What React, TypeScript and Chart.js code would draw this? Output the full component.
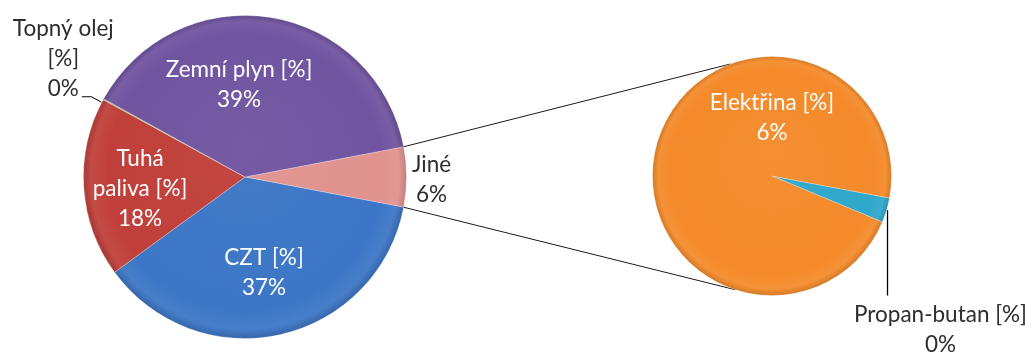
import React, { useEffect, useRef } from "react";
import { Chart, registerables } from "chart.js";

Chart.register(...registerables);

// ---- data ----
const mainLabelLines: string[][] = [["Jiné"], ["CZT [%]"], ["Tuhá", "paliva [%]"], ["Topný olej", "[%]"], ["Zemní plyn [%]"]];
const mainValues = [6, 37, 18, 0.1, 39];
const mainPercent = ["6%", "37%", "18%", "0%", "39%"];
const mainColors = ["#e0938f", "#3c76c6", "#c03f3a", "#8aad4a", "#7054a0"];

const subLabelLines: string[][] = [["Propan-butan [%]"], ["Elektřina [%]"]];
const subValues = [0.2, 5.8];
const subPercent = ["0%", "6%"];
const subColors = ["#2fa8cb", "#f48a2a"];

const FONT = "Lato, 'Open Sans', sans-serif";
const FONT_SIZE = 22.5;
const LINE_H = 30;
const DARK = "#2e2e2e";

function shade(hex: string, amt: number): string {
  const n = parseInt(hex.slice(1), 16);
  let r = (n >> 16) & 255, g = (n >> 8) & 255, b = n & 255;
  const f = (c: number) => Math.round(amt >= 0 ? c + (255 - c) * amt : c * (1 + amt));
  return `rgb(${f(r)},${f(g)},${f(b)})`;
}

function gradientFill(colors: string[]) {
  return (ctx: any) => {
    const chart = ctx.chart;
    const base = colors[ctx.dataIndex];
    const a = chart.chartArea;
    if (!a) return base;
    const cx = (a.left + a.right) / 2;
    const cy = (a.top + a.bottom) / 2;
    const r = Math.min(a.right - a.left, a.bottom - a.top) / 2;
    const g = chart.ctx.createRadialGradient(cx, cy - r * 0.2, 0, cx, cy, r);
    g.addColorStop(0, shade(base, 0.04));
    g.addColorStop(0.85, base);
    g.addColorStop(0.95, shade(base, 0.06));
    g.addColorStop(1, shade(base, -0.14));
    return g;
  };
}

function drawLines(c: CanvasRenderingContext2D, lines: string[], x: number, yc: number, color: string) {
  c.save();
  c.font = `${FONT_SIZE}px ${FONT}`;
  c.fillStyle = color;
  c.textAlign = "center";
  c.textBaseline = "middle";
  const y0 = yc - ((lines.length - 1) * LINE_H) / 2;
  lines.forEach((t, i) => c.fillText(t, x, y0 + i * LINE_H));
  c.restore();
}

export default function App() {
  const mainRef = useRef<HTMLCanvasElement>(null);
  const subRef = useRef<HTMLCanvasElement>(null);

  useEffect(() => {
    const subPlugin = {
      id: "subLabels",
      afterDatasetsDraw(chart: any) {
        const c = chart.ctx as CanvasRenderingContext2D;
        const arcs = chart.getDatasetMeta(0).data;
        const big = arcs[1];
        const cx = big.x, cy = big.y, r = big.outerRadius;
        drawLines(c, [...subLabelLines[1], subPercent[1]], cx, cy - r * 0.49, "#ffffff");
        const p = arcs[0];
        const mid = (p.startAngle + p.endAngle) / 2;
        const px = cx + r * Math.cos(mid);
        const py = cy + r * Math.sin(mid);
        c.save();
        c.strokeStyle = "#000";
        c.lineWidth = 1.3;
        c.beginPath();
        c.moveTo(px + 1, py);
        c.lineTo(px + 1, cy + r * 1.0);
        c.stroke();
        c.restore();
        drawLines(c, [...subLabelLines[0], subPercent[0]], cx + r * 1.41, cy + r * 1.29, DARK);
      },
    };

    const sub = new Chart(subRef.current!, {
      type: "pie",
      data: {
        labels: subLabelLines.map((l) => l.join(" ")),
        datasets: [
          {
            data: subValues,
            backgroundColor: gradientFill(subColors) as any,
            borderColor: "rgba(255,255,255,0.25)",
            borderWidth: 1,
          },
        ],
      },
      options: {
        animation: false,
        responsive: false,
        rotation: 90 + 10.6,
        layout: { padding: { left: 652, right: 140, top: 56, bottom: 58 } },
        plugins: { legend: { display: false }, tooltip: { enabled: false } },
      },
      plugins: [subPlugin],
    });

    const mainTotal = mainValues.reduce((a, b) => a + b, 0);
    const mainPlugin = {
      id: "mainLabels",
      afterDatasetsDraw(chart: any) {
        const c = chart.ctx as CanvasRenderingContext2D;
        const arcs = chart.getDatasetMeta(0).data;
        const a0 = arcs[0];
        const cx = a0.x, cy = a0.y, r = a0.outerRadius;
        drawLines(c, [...mainLabelLines[4], mainPercent[4]], cx - r * 0.037, cy - r * 0.57, "#ffffff");
        drawLines(c, [...mainLabelLines[2], mainPercent[2]], cx - r * 0.65, cy + r * 0.074, "#ffffff");
        drawLines(c, [...mainLabelLines[1], mainPercent[1]], cx + r * 0.118, cy + r * 0.595, "#ffffff");
        drawLines(c, [...mainLabelLines[0], mainPercent[0]], cx + r * 1.155, cy + r * 0.02, DARK);
        const t = arcs[3];
        const tm = (t.startAngle + t.endAngle) / 2;
        const tx = cx + r * Math.cos(tm);
        const ty = cy + r * Math.sin(tm);
        drawLines(c, [...mainLabelLines[3], mainPercent[3]], cx - r * 1.125, cy - r * 0.733, DARK);
        c.save();
        c.strokeStyle = "#000";
        c.lineWidth = 1;
        c.beginPath();
        c.moveTo(cx - r * 1.01, cy - r * 0.5 + 0.5);
        c.lineTo(cx - r * 0.95, cy - r * 0.5 + 0.5);
        c.lineTo(tx - 2, ty + 3);
        c.stroke();
        c.restore();
        const sArc = sub.getDatasetMeta(0).data[1] as any;
        const sx = sArc.x, sy = sArc.y, sr = sArc.outerRadius;
        const up = (-110.4 * Math.PI) / 180;
        const dn = (108 * Math.PI) / 180;
        c.save();
        c.strokeStyle = "#000";
        c.lineWidth = 0.9;
        c.beginPath();
        c.moveTo(cx + r * Math.cos(a0.startAngle), cy + r * Math.sin(a0.startAngle));
        c.lineTo(sx + sr * Math.cos(up), sy + sr * Math.sin(up));
        c.moveTo(cx + r * Math.cos(a0.endAngle), cy + r * Math.sin(a0.endAngle));
        c.lineTo(sx + sr * Math.cos(dn), sy + sr * Math.sin(dn));
        c.stroke();
        c.restore();
      },
    };

    const main = new Chart(mainRef.current!, {
      type: "pie",
      data: {
        labels: mainLabelLines.map((l) => l.join(" ")),
        datasets: [
          {
            data: mainValues,
            backgroundColor: gradientFill(mainColors) as any,
            borderColor: "rgba(255,255,255,0.25)",
            borderWidth: 1,
          },
        ],
      },
      options: {
        animation: false,
        responsive: false,
        rotation: 90 - ((mainValues[0] / mainTotal) * 360) / 2,
        layout: { padding: { left: 83, right: 625, top: 15, bottom: 15 } },
        plugins: { legend: { display: false }, tooltip: { enabled: false } },
      },
      plugins: [mainPlugin],
    });

    return () => {
      main.destroy();
      sub.destroy();
    };
  }, []);

  return (
    <div style={{ position: "fixed", left: 0, top: 0, width: 1032, height: 354, background: "#fff" }}>
      <canvas ref={mainRef} width={1032} height={354} style={{ position: "absolute", left: 0, top: 0 }} />
      <canvas ref={subRef} width={1032} height={354} style={{ position: "absolute", left: 0, top: 0 }} />
    </div>
  );
}
